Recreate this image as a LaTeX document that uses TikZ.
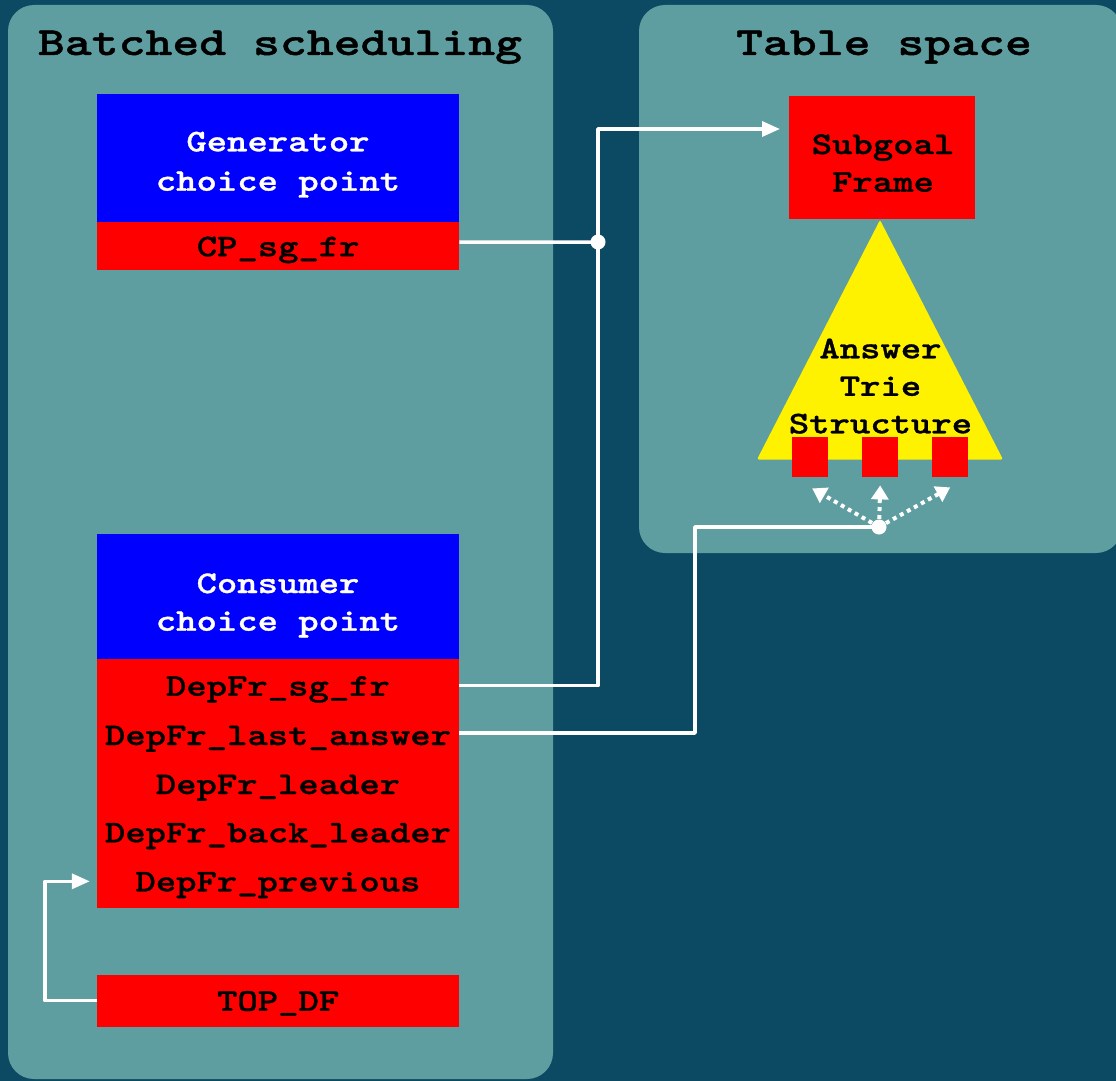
\documentclass[tikz,border=0pt]{standalone}
\usepackage{fontspec}
\newfontfamily\typebold{lmmonolt10-bold}[Extension=.otf, FakeStretch=1.231, FakeBold=1]
\newfontfamily\typetitle{lmmonolt10-bold}[Extension=.otf, FakeStretch=1.281, FakeBold=1]
\usetikzlibrary{arrows.meta,calc}
\definecolor{bgdark}{HTML}{0B4A62}
\definecolor{panelfill}{HTML}{5F9EA0}
\tikzset{
  panelbox/.style={fill=panelfill, rounded corners=26pt},
  titletext/.style={font=\typetitle\fontsize{40}{46}\selectfont, text=black, inner sep=0pt, anchor=base},
  bodyfont/.style={font=\typebold\fontsize{31.5}{38}\selectfont},
  blockbox/.style={inner sep=0pt, minimum width=362pt, anchor=north west},
  cpbox/.style={blockbox, fill=blue},
  fieldbox/.style={blockbox, fill=red},
  % one-line label whose baseline sits 10pt below the node centre
  fieldtext/.style={bodyfont, text=black, inner sep=0pt, text height=20pt, text depth=0pt},
  % several lines, placed by the baseline of the last line
  multitext/.style={bodyfont, align=center, inner sep=0pt, anchor=base},
  slotbox/.style={fill=red, inner sep=0pt, minimum width=36pt, minimum height=40pt, anchor=north west},
  wire/.style={draw=white, line width=3.5pt, line join=round},
  tipped/.style={-{Triangle[length=18pt,width=15pt]}},
  dotwire/.style={draw=white, line width=4pt, dash pattern=on 4pt off 4pt,
                  -{Triangle[length=14pt,width=17pt]}},
}
\begin{document}
\begin{tikzpicture}[x=1pt,y=-1pt]
  % page and the two regions
  \useasboundingbox (0,0) rectangle (1116,1081);
  \fill[bgdark] (0,0) rectangle (1116,1081);
  \begin{scope}
    \clip (0,0) rectangle (1116,1081);
    \path[panelbox] (8,5) rectangle (553,1079);
    \path[panelbox] (639,5) rectangle (1122,553);
  \end{scope}

  \node[titletext] (ttl1) at (280,55) {Batched scheduling};
  \node[titletext] (ttl2) at (884,55) {Table space};

  % generator choice point
  \node[cpbox, minimum height=128pt] (gen) at (97,94) {};
  \node[multitext, text=white, execute at begin node={\baselineskip=39.4pt}]
    (genlbl) at (278,190.7) {Generator\\choice point};
  \node[fieldbox, fieldtext, minimum height=48pt] (cpsg) at (97,222) {CP\_sg\_fr};

  % consumer choice point and its dependency frame fields
  \node[cpbox, minimum height=125pt] (cons) at (97,534) {};
  \node[multitext, text=white, execute at begin node={\baselineskip=37.7pt}]
    (conslbl) at (278,630.7) {Consumer\\choice point};
  \node[fieldbox, minimum height=249pt] (depfr) at (97,659) {};
  \node[fieldtext, minimum width=362pt] (d1) at (278,685.7) {DepFr\_sg\_fr};
  \node[fieldtext, minimum width=362pt] (d2) at (278,735) {DepFr\_last\_answer};
  \node[fieldtext, minimum width=362pt] (d3) at (278,784) {DepFr\_leader};
  \node[fieldtext, minimum width=362pt] (d4) at (278,832.3) {DepFr\_back\_leader};
  \node[fieldtext, minimum width=362pt] (d5) at (278,881.3) {DepFr\_previous};

  \node[fieldbox, fieldtext, minimum height=52pt] (topdf) at (97,974.5) {TOP\_DF};

  % table space: subgoal frame and answer trie
  \node[fill=red, inner sep=0pt, minimum width=186pt, minimum height=123pt, anchor=north west]
    (sgf) at (789,96) {};
  \node[multitext, execute at begin node={\baselineskip=37.7pt}]
    (sgflbl) at (883,191.7) {Subgoal\\Frame};
  \fill[yellow, rounded corners=2pt] (880,220) -- (1003,459.5) -- (757,459.5) -- cycle;
  \node[multitext, execute at begin node={\baselineskip=37.5pt}]
    (ats) at (880.5,433.3) {Answer\\Trie\\Structure};
  \node[slotbox] (s1) at (792,437) {};
  \node[slotbox] (s2) at (862,437) {};
  \node[slotbox] (s3) at (932,437) {};

  % connectors
  \coordinate (jA) at (598,242);
  \coordinate (sgin) at (780,129);
  \coordinate (jB) at (879,527);
  \coordinate (bendB) at (695,527);

  \draw[wire] ($(cpsg.east)+(0,-4)$) -- (jA);
  \draw[wire, tipped] (d1.east) -| (jA) |- (sgin);
  \fill[white] (jA) circle (7.5pt);

  \draw[wire] ($(d2.east)+(0,-2)$) -| (bendB) -- (jB);
  \draw[dotwire] (jB) -- ($(s1.south)+(2,11)$);
  \draw[dotwire] (jB) -- ($(s2.south)+(0,8)$);
  \draw[dotwire] (jB) -- ($(s3.south)+(0,10)$);
  \fill[white] (jB) circle (7.5pt);

  \draw[wire, tipped] (topdf.west) -- ++(-52,0) |- ($(d5.west)+(-7,0)$);
\end{tikzpicture}
\end{document}
